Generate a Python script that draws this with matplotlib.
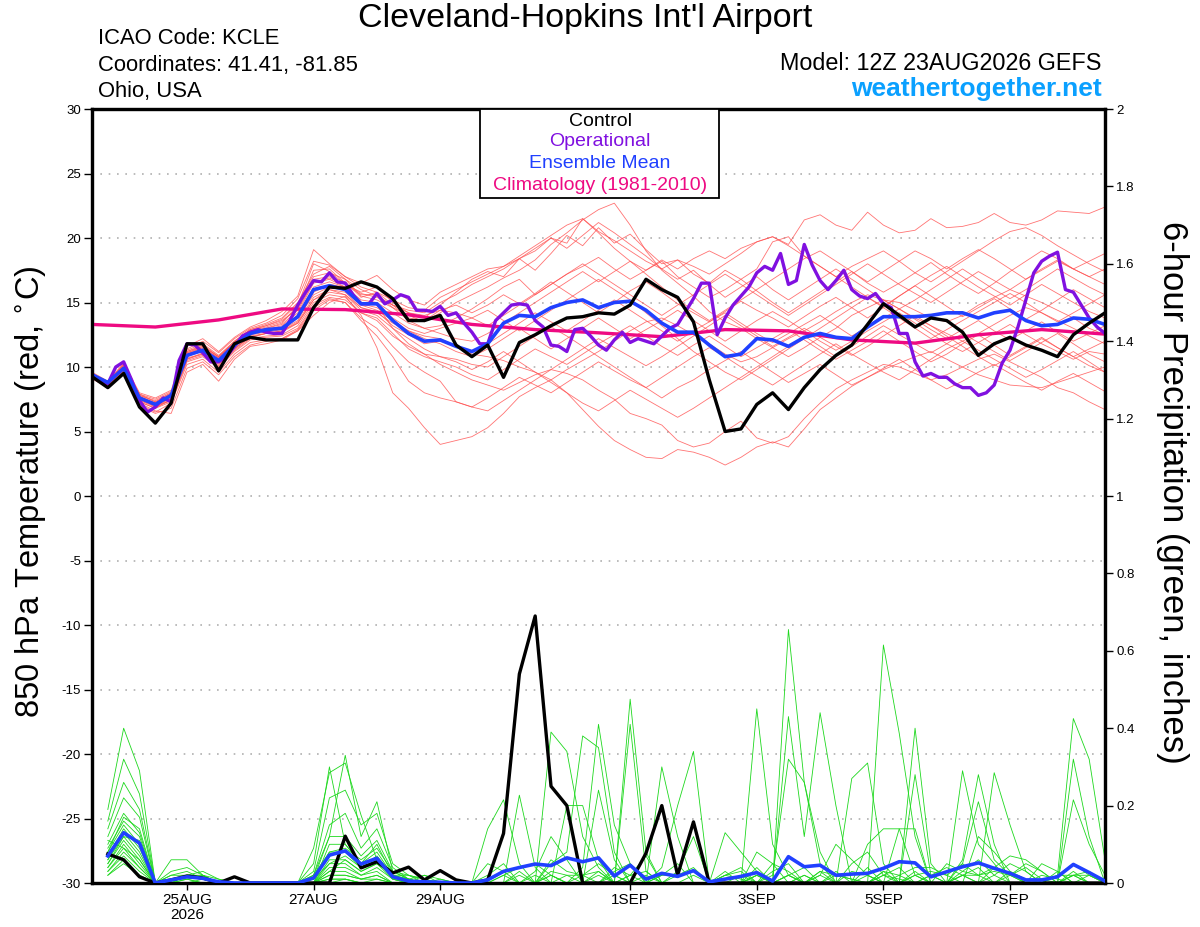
import numpy as np
import matplotlib
matplotlib.use("Agg")
import matplotlib.pyplot as plt
from matplotlib.patches import Rectangle

plt.rcParams['font.family'] = ['Liberation Sans', 'DejaVu Sans']

# ---------------- data ----------------
hours6 = np.arange(65) * 6          # 12Z 23AUG .. 12Z 8SEP, 6-hourly
hours3 = np.arange(129) * 3         # operational run is 3-hourly
clim_hours = np.arange(17) * 24

tick_hours = [36, 84, 132, 204, 252, 300, 348]
tick_labels = ['25AUG\n2026', '27AUG', '29AUG', '1SEP', '3SEP', '5SEP', '7SEP']

control_t = [9.25, 8.4, 9.5, 6.9, 5.65, 7.2, 11.8, 11.8, 9.7, 11.8, 12.3, 12.1, 12.1, 12.1, 14.6,
             16.2, 16.1, 16.6, 16.2, 15.3, 13.6, 13.6, 14.0, 11.7, 10.8, 11.7, 9.2, 11.9, 12.5, 13.2,
             13.8, 13.9, 14.2, 14.1, 14.8, 16.8, 16.0, 15.4, 13.5, 9.0, 5.0, 5.2, 7.1, 8.0, 6.7,
             8.4, 9.8, 10.9, 11.7, 13.3, 14.9, 14.0, 13.1, 13.8, 13.6, 12.7, 10.9, 11.8, 12.3, 11.7,
             11.3, 10.8, 12.5, 13.4, 14.2]

mean_t = [9.4, 8.8, 9.9, 7.6, 7.1, 7.8, 10.9, 11.3, 10.5, 11.7, 12.6, 12.9, 13.0, 13.9, 16.0,
          16.3, 16.0, 14.9, 14.9, 13.6, 12.6, 12.0, 12.1, 11.6, 11.2, 11.8, 13.4, 14.0, 13.9, 14.6,
          15.0, 15.2, 14.6, 15.0, 15.1, 14.4, 13.4, 12.7, 12.7, 11.7, 10.8, 11.0, 12.2, 12.1, 11.6,
          12.3, 12.6, 12.3, 12.2, 13.1, 13.9, 13.9, 13.9, 14.0, 14.2, 14.2, 13.8, 14.2, 14.4, 13.6,
          13.2, 13.3, 13.8, 13.7, 13.3]

oper_t = [9.4, 9.0, 8.7, 10.0, 10.4, 9.0, 7.4, 6.5, 6.9, 7.6, 7.3, 10.5, 11.8, 11.7, 11.1, 10.4,
          10.4, 10.8, 11.6, 12.4, 12.7, 12.9, 12.7, 12.6, 12.6, 13.6, 14.8, 15.8, 16.7, 16.6, 17.3,
          16.6, 16.5, 15.6, 14.9, 14.9, 15.7, 14.9, 15.2, 15.6, 15.4, 14.4, 14.4, 14.3, 14.7, 14.0,
          14.2, 13.4, 12.7, 11.8, 11.8, 13.6, 14.2, 14.8, 14.9, 14.8, 13.6, 13.1, 11.7, 11.6, 11.2,
          12.9, 13.0, 12.4, 11.7, 11.3, 12.1, 12.7, 11.9, 12.2, 12.0, 11.8, 12.4, 13.0, 13.3, 14.3,
          15.3, 16.5, 16.5, 12.5, 13.8, 14.8, 15.5, 16.2, 17.3, 17.8, 17.5, 18.8, 16.4, 16.7, 19.5,
          17.9, 16.7, 16.0, 16.7, 17.5, 16.0, 15.5, 15.3, 15.7, 14.9, 14.6, 12.6, 12.6, 10.4, 9.3,
          9.5, 9.2, 9.2, 8.7, 8.4, 8.4, 7.8, 8.0, 8.6, 10.3, 11.3, 13.1, 15.2, 17.3, 18.2, 18.6,
          18.9, 16.0, 15.8, 14.8, 13.8, 13.1, 12.6]

clim_t = [13.3, 13.1, 13.65, 14.5, 14.45, 14.05, 13.3, 12.9, 12.65, 12.35, 12.9, 12.8, 12.1,
          11.85, 12.5, 12.9, 12.55]

temp_members = [
    [9.5, 8.8, 10.2, 7.8, 7.4, 8.0, 11.3, 11.8, 10.9, 12.0, 12.9, 13.3, 13.8, 15.0, 17.2, 17.8, 16.8, 15.5, 15.2, 14.6, 14.0, 13.5, 14.2, 15.0, 15.6,
     16.2, 16.9, 17.5, 18.3, 19.5, 20.4, 21.4, 22.2, 22.7, 21.0, 19.0, 17.5, 16.5, 15.5, 14.3, 13.5, 13.0, 12.2, 11.5, 10.8, 11.5, 12.3, 13.0, 14.0, 14.6, 15.2, 15.0, 14.4, 13.8, 13.5, 14.0, 14.8, 15.4, 16.0, 15.5, 15.0, 14.4, 13.8, 13.0, 12.5],
    [9.2, 8.5, 9.6, 7.2, 6.6, 6.4, 9.6, 10.2, 8.9, 10.6, 11.6, 11.8, 12.1, 12.8, 14.0, 15.0, 15.5, 14.0, 11.5, 8.0, 6.8, 5.3, 4.0, 4.3, 4.6,
     5.3, 6.4, 7.7, 8.4, 9.0, 9.8, 10.5, 11.2, 12.0, 12.8, 13.5, 13.8, 13.2, 12.5, 11.8, 11.0, 10.4, 10.8, 11.5, 12.2, 12.8, 13.5, 14.3, 15.0, 15.6, 15.2, 14.5, 13.8, 13.2, 12.6, 12.0, 12.6, 13.3, 14.0, 14.6, 14.2, 13.6, 13.0, 12.4, 11.8],
    [9.4, 8.6, 9.8, 7.5, 7.0, 7.6, 10.6, 11.0, 10.2, 11.4, 12.4, 12.6, 12.8, 13.5, 15.4, 16.0, 15.8, 14.6, 14.3, 13.2, 12.5, 11.8, 12.0, 11.6, 11.0,
     10.8, 10.5, 10.0, 9.6, 9.0, 8.0, 6.7, 5.4, 4.3, 3.6, 3.0, 2.9, 3.6, 3.4, 3.0, 2.4, 3.0, 3.8, 4.2, 3.8, 5.2, 6.7, 7.6, 8.5, 9.2, 9.8, 10.3, 10.8, 11.2, 10.6, 10.0, 9.4, 9.0, 8.6, 8.5, 8.4, 8.8, 9.2, 9.6, 10.0],
    [9.3, 8.7, 10.0, 7.6, 6.9, 7.4, 10.8, 11.4, 10.6, 11.8, 12.6, 12.9, 13.2, 14.2, 16.5, 16.8, 16.2, 15.0, 14.8, 13.0, 11.8, 11.0, 10.2, 9.6, 9.0,
     8.6, 8.2, 8.8, 9.4, 9.8, 9.5, 9.0, 8.2, 7.5, 6.4, 6.0, 5.5, 4.3, 3.8, 4.1, 5.0, 5.8, 4.5, 4.1, 4.6, 6.0, 7.2, 8.3, 9.0, 9.6, 10.2, 10.0, 9.5, 9.0, 9.4, 10.0, 10.6, 11.0, 10.4, 9.8, 9.2, 8.4, 8.0, 7.3, 6.7],
    [9.6, 8.9, 10.3, 8.0, 7.6, 8.2, 11.6, 12.2, 11.2, 12.3, 13.1, 13.6, 14.3, 15.5, 19.1, 18.0, 17.0, 16.5, 17.1, 16.0, 15.2, 14.8, 15.8, 16.4, 17.0,
     17.6, 17.8, 18.4, 19.2, 20.0, 19.6, 21.5, 20.5, 19.8, 19.0, 18.2, 17.6, 18.3, 17.8, 17.2, 18.0, 18.8, 19.7, 20.1, 19.5, 21.4, 21.8, 21.0, 20.6, 22.0, 21.0, 20.4, 20.6, 21.5, 20.8, 20.9, 21.2, 21.9, 21.2, 21.0, 21.4, 22.1, 22.0, 21.9, 22.4],
    [9.4, 8.7, 9.9, 7.7, 7.2, 7.9, 11.0, 11.5, 10.7, 11.9, 12.8, 13.0, 13.4, 14.8, 18.0, 17.4, 16.4, 15.8, 16.2, 15.0, 14.2, 13.8, 14.8, 15.8, 16.8,
     17.4, 17.0, 18.4, 17.5, 18.8, 20.2, 19.4, 20.8, 19.6, 20.3, 19.1, 18.0, 18.3, 17.2, 16.5, 17.5, 16.8, 17.6, 19.7, 20.1, 18.6, 17.8, 17.0, 17.8, 18.4, 19.0, 18.2, 17.3, 16.6, 17.4, 18.2, 19.0, 19.8, 20.5, 20.8, 20.2, 19.4, 18.7, 18.0, 17.4],
    [9.3, 8.6, 9.9, 7.4, 7.0, 7.7, 10.9, 11.2, 10.4, 11.6, 12.5, 12.7, 12.9, 13.6, 15.8, 16.4, 16.2, 15.2, 15.0, 14.2, 13.4, 13.0, 13.2, 13.8, 14.5,
     15.3, 16.2, 16.8, 15.6, 16.4, 17.2, 17.8, 18.5, 17.6, 16.8, 17.5, 18.2, 17.0, 16.2, 15.4, 16.0, 16.8, 15.9, 15.0, 14.2, 15.0, 15.8, 16.6, 17.4, 16.5, 15.8, 16.5, 17.3, 18.1, 17.2, 16.4, 15.7, 16.5, 17.4, 18.2, 19.0, 18.4, 17.6, 18.2, 18.8],
    [9.5, 8.8, 10.1, 7.9, 7.3, 7.9, 11.1, 11.6, 10.8, 11.9, 12.8, 13.2, 13.6, 14.5, 16.8, 17.0, 16.6, 15.4, 15.8, 14.8, 13.8, 13.6, 14.4, 14.8, 14.2,
     14.8, 15.6, 14.9, 15.7, 16.6, 15.8, 15.0, 14.2, 15.0, 15.9, 16.6, 15.8, 14.9, 14.2, 13.5, 14.3, 15.1, 14.4, 13.8, 13.1, 13.9, 14.7, 15.4, 14.6, 13.8, 14.6, 15.5, 16.3, 15.5, 14.7, 13.9, 14.6, 15.3, 14.5, 13.7, 14.4, 15.2, 16.0, 15.3, 14.6],
    [9.1, 8.4, 9.6, 7.3, 6.8, 7.5, 10.5, 10.9, 10.0, 11.3, 12.2, 12.4, 12.5, 13.2, 15.0, 15.6, 15.4, 14.2, 13.8, 12.6, 11.4, 10.8, 10.4, 10.0, 9.4,
     9.0, 9.8, 10.6, 11.4, 10.8, 10.2, 11.0, 11.8, 12.5, 13.2, 12.4, 11.6, 10.9, 11.7, 12.4, 11.6, 10.8, 11.5, 12.2, 12.9, 12.1, 11.3, 10.6, 11.3, 12.0, 12.8, 12.0, 11.2, 10.4, 11.0, 11.8, 12.5, 11.7, 10.9, 11.6, 12.3, 11.5, 10.8, 10.1, 9.6],
    [9.2, 8.5, 9.7, 7.1, 6.5, 7.2, 10.2, 10.6, 9.6, 11.0, 11.9, 12.1, 12.2, 12.8, 14.4, 15.2, 15.0, 13.8, 13.0, 11.6, 10.4, 9.6, 8.9, 7.3, 6.9,
     7.6, 8.4, 9.2, 8.6, 8.0, 8.8, 9.6, 10.4, 9.7, 9.0, 8.4, 9.2, 10.0, 10.8, 11.5, 10.8, 10.0, 9.3, 8.6, 9.4, 10.2, 11.0, 11.8, 11.0, 10.3, 9.6, 9.0, 9.8, 10.6, 11.4, 12.0, 11.3, 10.6, 9.9, 9.2, 9.8, 10.5, 11.2, 10.4, 9.6],
    [9.4, 8.7, 10.0, 7.6, 7.1, 7.8, 11.0, 11.4, 10.5, 11.7, 12.6, 12.9, 13.1, 14.0, 16.2, 16.6, 16.2, 14.8, 14.4, 13.6, 12.8, 12.4, 12.2, 11.6, 11.2,
     11.8, 12.6, 13.4, 14.2, 13.5, 12.8, 13.6, 14.4, 15.2, 14.4, 13.6, 12.8, 12.0, 12.8, 13.5, 14.2, 13.4, 12.6, 11.9, 12.6, 13.3, 14.0, 13.2, 12.4, 13.1, 13.8, 14.5, 13.7, 12.9, 12.2, 12.9, 13.6, 12.8, 12.1, 12.8, 13.5, 12.7, 12.0, 12.6, 13.2],
    [9.5, 8.8, 10.1, 7.7, 7.2, 7.8, 11.2, 11.7, 10.8, 11.9, 12.8, 13.1, 13.5, 14.6, 17.5, 17.6, 16.5, 15.7, 15.4, 14.8, 14.4, 14.2, 15.0, 15.6, 16.4,
     17.0, 17.6, 18.4, 19.0, 20.0, 19.2, 20.2, 21.2, 20.4, 19.5, 18.6, 17.6, 16.8, 17.5, 16.4, 15.4, 16.2, 17.0, 16.0, 15.2, 16.0, 16.8, 17.6, 16.8, 16.0, 15.2, 14.5, 15.2, 16.0, 16.8, 17.6, 16.8, 16.0, 15.3, 16.0, 16.8, 17.6, 16.9, 16.2, 15.6],
    [9.2, 8.6, 9.8, 7.5, 7.0, 7.4, 10.6, 11.1, 10.3, 11.5, 12.3, 12.6, 12.8, 13.4, 15.2, 16.0, 15.6, 14.4, 14.0, 13.0, 12.2, 11.4, 10.8, 10.6, 10.2,
     10.0, 10.8, 11.6, 12.4, 13.1, 12.4, 11.6, 10.8, 10.0, 9.2, 8.4, 7.6, 8.4, 9.0, 9.8, 10.5, 11.2, 10.4, 9.6, 8.8, 9.5, 10.2, 9.4, 8.6, 9.2, 9.9, 10.6, 9.8, 9.0, 8.3, 8.9, 9.6, 10.2, 9.5, 8.8, 8.2, 8.9, 9.5, 8.8, 8.1],
    [9.3, 8.6, 9.9, 7.6, 7.1, 7.7, 10.8, 11.3, 10.5, 11.7, 12.6, 12.8, 13.0, 13.8, 15.6, 16.2, 16.0, 14.9, 14.6, 13.8, 13.0, 12.6, 13.0, 13.4, 13.8,
     14.4, 13.6, 12.8, 13.6, 14.4, 15.2, 16.0, 16.8, 16.0, 15.2, 14.2, 13.2, 12.2, 11.2, 10.4, 9.6, 9.0, 9.8, 10.6, 11.4, 12.2, 13.0, 13.8, 14.6, 15.4, 14.6, 13.8, 13.0, 12.2, 12.9, 13.6, 14.3, 15.0, 15.7, 15.0, 14.2, 13.5, 14.2, 14.9, 15.6],
    [9.4, 8.7, 10.0, 7.7, 7.2, 7.9, 11.1, 11.5, 10.7, 11.8, 12.7, 13.0, 13.3, 14.4, 16.6, 16.9, 16.4, 15.6, 15.6, 14.6, 13.6, 13.0, 12.6, 12.2, 12.0,
     12.6, 13.4, 14.2, 15.0, 15.8, 16.6, 17.4, 16.6, 17.4, 18.2, 17.5, 18.3, 17.6, 18.4, 19.0, 18.4, 19.2, 19.7, 20.1, 19.4, 18.6, 17.8, 17.0, 16.2, 15.4, 14.7, 15.5, 16.3, 17.1, 17.8, 17.0, 16.2, 15.5, 14.8, 15.6, 16.4, 15.7, 15.0, 14.3, 13.8],
    [9.2, 8.5, 9.7, 7.3, 6.8, 7.3, 10.4, 10.8, 9.9, 11.2, 12.1, 12.3, 12.4, 13.0, 14.8, 15.4, 15.2, 14.2, 13.6, 12.4, 11.6, 11.0, 10.8, 10.4, 9.8,
     10.4, 11.2, 10.4, 9.6, 8.8, 8.0, 7.2, 6.6, 7.4, 8.2, 7.5, 6.8, 6.1, 6.8, 7.6, 8.4, 9.2, 10.0, 10.8, 11.6, 12.4, 11.6, 10.8, 11.6, 12.4, 13.2, 12.5, 11.8, 11.1, 11.8, 12.6, 11.9, 11.2, 10.5, 11.2, 11.9, 12.6, 11.8, 11.0, 10.4],
    [9.5, 8.9, 10.2, 7.9, 7.5, 8.1, 11.4, 12.0, 11.1, 12.2, 13.0, 13.4, 14.0, 15.3, 18.2, 17.9, 17.0, 16.2, 15.8, 15.2, 14.6, 14.4, 15.4, 16.0, 16.6,
     17.2, 17.8, 18.6, 19.4, 20.2, 21.0, 21.5, 20.4, 19.2, 18.2, 17.2, 16.2, 15.2, 14.4, 13.6, 14.4, 15.2, 16.0, 16.8, 17.6, 18.4, 19.0, 18.2, 17.4, 16.6, 17.4, 18.2, 19.0, 18.4, 17.6, 18.4, 19.1, 18.4, 17.6, 16.8, 17.5, 18.2, 17.6, 17.0, 16.4],
    [9.3, 8.6, 9.8, 7.4, 6.9, 7.6, 10.7, 11.0, 10.1, 11.4, 12.3, 12.6, 12.7, 13.4, 15.2, 15.8, 15.6, 14.6, 14.2, 13.4, 12.8, 12.2, 11.8, 11.2, 10.8,
     11.4, 12.2, 13.0, 12.2, 11.4, 12.2, 13.0, 13.8, 13.0, 12.2, 12.9, 13.6, 14.4, 13.6, 12.8, 12.0, 12.8, 13.6, 14.3, 13.6, 12.8, 12.0, 11.3, 12.0, 12.8, 13.5, 14.2, 13.4, 12.6, 11.8, 11.2, 11.9, 12.6, 13.3, 12.5, 11.8, 11.2, 10.6, 11.2, 11.0],
    [9.1, 8.4, 9.5, 7.0, 6.4, 6.8, 9.9, 10.4, 9.4, 10.8, 11.7, 12.0, 12.2, 12.9, 14.6, 15.3, 15.0, 13.6, 12.4, 10.8, 8.9, 8.0, 7.6, 7.3, 6.9,
     6.6, 7.4, 8.2, 9.0, 9.8, 10.6, 11.4, 12.2, 11.5, 10.8, 10.1, 10.8, 11.6, 12.4, 13.2, 14.0, 13.2, 12.4, 11.6, 12.3, 13.0, 12.3, 11.6, 10.9, 11.6, 12.4, 13.2, 14.0, 13.2, 12.4, 11.6, 10.8, 10.1, 10.8, 11.5, 12.2, 11.5, 10.8, 11.4, 12.0],
    [9.4, 8.8, 10.1, 7.8, 7.3, 8.0, 11.2, 11.6, 10.8, 12.0, 12.9, 13.2, 13.7, 14.9, 17.0, 17.3, 16.8, 16.0, 15.5, 14.8, 14.2, 14.0, 14.4, 14.2, 13.8,
     13.2, 14.0, 14.8, 15.6, 16.4, 17.2, 18.0, 17.2, 16.4, 15.6, 14.8, 14.0, 14.8, 15.6, 16.4, 17.2, 16.4, 15.6, 14.8, 14.0, 14.8, 15.6, 16.4, 17.2, 18.0, 17.2, 16.4, 15.7, 15.0, 15.8, 16.6, 17.4, 16.7, 16.0, 16.8, 17.6, 18.3, 17.6, 17.0, 17.6],
]

# 6-hour precipitation, 6h .. 384h
control_p = [.075, .06, .016, 0, .008, .018, .013, 0, .016, 0, 0, 0, 0, 0, 0, .121,
             .039, .055, .026, .041, .008, .032, .008, 0, .008, .128, .54, .69, .25, .20, 0, 0,
             0, 0, .077, .20, .02, .158, 0, 0, 0, 0, 0, 0, 0, 0, 0, 0,
             0, 0, 0, 0, 0, 0, 0, 0, 0, 0, 0, 0, 0, 0, 0, 0]

mean_p = [.07, .13, .103, 0, .008, .016, .012, .003, 0, 0, 0, 0, 0, .013, .072, .083,
          .049, .064, .016, .005, .003, .002, 0, 0, .008, .03, .04, .049, .045, .065, .055, .065,
          .018, .046, .01, .025, .017, .032, .003, .01, .017, .027, .005, .068, .042, .046, .02, .023,
          .025, .038, .055, .052, .016, .029, .042, .052, .038, .025, .008, .008, .016, .048, .027, .005]

precip_members = [
    [.19, .40, .29, 0, .02, .03, .01, 0, 0, 0, 0, 0, 0, .02, .12, .33, .12, .21, .03, .01, 0, 0, 0, 0, 0, 0, 0, 0, .02, 0, 0, 0,
     0, .41, .03, 0, 0, 0, 0, 0, 0, .02, 0, .655, .26, .05, 0, 0, 0, 0, 0, 0, 0, 0, .02, .04, 0, 0, 0, 0, 0, .03, 0, 0],
    [.16, .32, .23, 0, .06, .06, .02, 0, 0, 0, 0, 0, 0, .05, .30, .10, .05, .10, .02, 0, 0, 0, 0, 0, .14, .215, .05, 0, 0, 0, 0, 0,
     0, 0, 0, .30, .12, 0, 0, 0, 0, 0, 0, 0, 0, 0, 0, 0, 0, .02, .04, 0, 0, 0, 0, 0, 0, 0, 0, 0, .02, .425, .32, .06],
    [.14, .26, .19, 0, .01, .02, .01, 0, 0, 0, 0, 0, 0, .09, .285, .31, .175, .06, .01, 0, 0, 0, 0, 0, 0, 0, 0, 0, .39, .34, .12, .04,
     0, 0, 0, 0, 0, 0, 0, .13, .08, .03, 0, 0, 0, 0, 0, .27, .31, .05, 0, 0, 0, 0, 0, 0, 0, 0, 0, 0, 0, 0, 0, 0],
    [.12, .22, .17, 0, 0, .01, 0, 0, 0, 0, 0, 0, 0, .03, .22, .24, .15, .18, .05, .02, 0, 0, 0, 0, 0, 0, .227, .04, 0, .20, .20, .06,
     0, .475, .08, 0, 0, 0, 0, 0, 0, .45, .10, .02, 0, 0, 0, 0, 0, .615, .387, .12, 0, 0, 0, 0, 0, 0, 0, 0, 0, 0, 0, 0],
    [.10, .18, .13, 0, 0, 0, .01, 0, 0, 0, 0, 0, 0, .02, .15, .18, .09, .14, .04, .01, 0, 0, 0, 0, .05, .03, 0, 0, .05, .08, .38, .35,
     .08, 0, 0, 0, 0, 0, 0, 0, 0, 0, 0, .43, .12, .44, .20, 0, 0, 0, 0, .40, .05, 0, 0, 0, 0, 0, 0, 0, 0, 0, 0, 0],
    [.09, .16, .12, 0, 0, .02, .03, .01, 0, 0, 0, 0, 0, .01, .12, .12, .07, .11, .03, .01, .02, 0, 0, 0, 0, 0, 0, 0, 0, 0, .04, .41,
     .15, .05, 0, .04, .20, .34, 0, 0, 0, 0, 0, 0, 0, 0, 0, 0, 0, 0, 0, .28, .02, 0, .29, .10, .05, 0, 0, 0, 0, 0, 0, 0],
    [.08, .15, .10, 0, 0, 0, 0, 0, 0, 0, 0, 0, 0, 0, .10, .10, .05, .08, .02, .02, .01, 0, 0, 0, 0, .02, .04, .05, .02, 0, 0, .24,
     .06, 0, 0, 0, .03, .12, 0, 0, 0, 0, .02, .32, .26, .08, 0, 0, 0, 0, 0, 0, 0, 0, .06, .28, .10, 0, 0, 0, 0, .32, .12, 0],
    [.07, .14, .09, 0, .03, .04, .02, 0, 0, 0, 0, 0, 0, 0, .08, .08, .04, .06, .02, .01, 0, .01, 0, 0, 0, 0, 0, .03, .12, .06, 0, 0,
     0, .02, .07, 0, 0, 0, 0, .02, .03, 0, 0, 0, 0, .02, .10, .06, .02, 0, 0, 0, 0, 0, 0, 0, .285, .15, .03, 0, 0, 0, 0, 0],
    [.06, .13, .08, 0, 0, 0, 0, 0, 0, 0, 0, 0, 0, 0, .06, .06, .03, .05, .01, 0, 0, 0, 0, 0, 0, 0, 0, 0, .06, .03, .02, 0,
     0, 0, 0, 0, 0, 0, 0, 0, 0, 0, .03, .05, 0, 0, 0, .05, .08, .02, 0, .03, 0, 0, 0, .12, .08, .03, 0, 0, 0, .215, .10, .02],
    [.05, .12, .07, 0, .02, .02, .01, 0, 0, 0, 0, 0, 0, 0, .05, .05, .02, .04, .01, 0, .02, .01, 0, 0, 0, 0, .03, 0, 0, 0, .02, .05,
     .02, 0, 0, .02, .05, 0, 0, 0, 0, .04, 0, 0, 0, .03, 0, 0, .10, .14, .14, .02, 0, 0, .05, .02, 0, .02, .05, .03, 0, 0, 0, 0],
    [.05, .11, .06, 0, 0, 0, 0, 0, 0, 0, 0, 0, 0, 0, .04, .04, .02, .03, 0, 0, 0, 0, 0, 0, 0, 0, 0, 0, .03, .02, 0, 0,
     .04, .02, 0, 0, 0, 0, 0, 0, 0, 0, .05, .03, 0, .03, .02, .01, 0, 0, .02, .04, .04, .02, .05, .21, .06, .02, 0, 0, .02, .02, 0, 0],
    [.04, .10, .05, 0, 0, .01, .02, .01, 0, 0, 0, 0, 0, 0, .03, .03, .01, .02, 0, 0, 0, 0, 0, 0, 0, 0, 0, 0, 0, 0, 0, 0,
     0, .02, .03, 0, .02, .03, 0, .02, .01, 0, 0, .02, .04, 0, 0, .03, .02, 0, .14, .14, 0, 0, .03, .06, .02, .05, .03, 0, .02, .05, .02, 0],
    [.04, .09, .04, 0, 0, 0, 0, 0, 0, 0, 0, 0, 0, 0, .02, .02, .01, .02, 0, 0, 0, 0, 0, 0, 0, 0, 0, 0, 0, 0, 0, 0,
     .02, 0, 0, 0, 0, .02, 0, 0, 0, .08, .05, 0, 0, 0, .02, .01, 0, .03, .02, 0, 0, .05, .03, .02, .03, .02, .04, .01, 0, .02, .02, 0],
    [.03, .08, .04, 0, 0, 0, 0, 0, 0, 0, 0, 0, 0, 0, .02, .02, .01, .01, 0, 0, 0, 0, 0, 0, 0, 0, 0, 0, .02, 0, 0, .03,
     0, 0, 0, 0, 0, 0, 0, .02, .04, 0, 0, 0, 0, 0, .03, 0, .04, 0, 0, 0, .02, .04, .02, 0, .04, .02, 0, .02, .01, 0, 0, 0],
    [.03, .07, .03, 0, 0, 0, 0, 0, 0, 0, 0, 0, 0, 0, .01, .01, 0, .01, 0, 0, 0, 0, 0, 0, 0, 0, .02, 0, 0, 0, 0, 0,
     0, 0, 0, 0, 0, 0, 0, 0, 0, .02, 0, 0, .02, 0, 0, 0, 0, 0, 0, .02, 0, 0, .02, .02, .04, .07, .06, .03, 0, .02, .03, 0],
    [.02, .06, .02, 0, 0, 0, 0, 0, 0, 0, 0, 0, 0, 0, .01, .01, 0, 0, 0, 0, 0, 0, 0, 0, 0, 0, 0, 0, 0, 0, 0, .02,
     0, 0, .02, 0, 0, 0, 0, 0, 0, 0, 0, 0, 0, 0, 0, 0, .02, 0, 0, 0, .02, 0, 0, 0, 0, 0, 0, .05, .03, 0, .02, 0],
    [.02, .05, .02, 0, 0, 0, 0, 0, 0, 0, 0, 0, 0, 0, 0, .01, 0, 0, 0, 0, 0, 0, 0, 0, 0, 0, 0, 0, 0, 0, 0, 0,
     0, 0, 0, 0, 0, 0, 0, 0, 0, .02, 0, 0, 0, .02, 0, 0, 0, .03, 0, 0, 0, 0, .02, 0, .02, 0, 0, 0, .03, 0, 0, 0],
    [.06, .12, .11, 0, 0, .02, .02, 0, 0, 0, 0, 0, 0, 0, .03, .06, .03, .05, .02, .01, 0, 0, 0, 0, .02, .05, 0, .02, 0, .02, .02, .03,
     0, 0, 0, .02, .02, .04, 0, .03, 0, 0, 0, .02, 0, 0, 0, 0, 0, 0, 0, 0, 0, 0, 0, 0, 0, .03, .01, 0, 0, .02, 0, 0],
    [.08, .17, .14, 0, .01, .01, 0, 0, 0, 0, 0, 0, 0, .02, .08, .09, .06, .09, .03, .02, .01, 0, 0, 0, 0, .02, 0, 0, 0, 0, 0, 0,
     .03, .05, 0, 0, 0, 0, 0, 0, .02, 0, 0, 0, .02, 0, 0, 0, 0, .02, .01, 0, 0, 0, 0, 0, 0, 0, 0, 0, 0, 0, 0, 0],
    [.11, .09, .06, 0, 0, 0, 0, 0, 0, 0, 0, 0, 0, .01, .05, .07, .04, .07, .02, 0, 0, 0, 0, 0, 0, 0, 0, 0, 0, 0, 0, 0,
     0, 0, 0, 0, 0, 0, 0, 0, 0, 0, 0, .02, 0, 0, 0, 0, 0, 0, 0, .02, .03, .02, 0, 0, 0, 0, 0, 0, 0, 0, 0, 0],
]

# ---------------- figure ----------------
W, H = 1200, 927
fig = plt.figure(figsize=(W / 100, H / 100), dpi=100)
L, R, B, T = 92, 1105, 883, 109
ax = fig.add_axes([L / W, 1 - B / H, (R - L) / W, (B - T) / H])
ax2 = ax.twinx()

red = '#ff5050'
green = '#1ed81e'
purple = '#8010e0'
blue = '#2040ff'
pink = '#ee0a82'

for m in temp_members:
    ax.plot(hours6[:len(m)], m, color=red, lw=0.6, alpha=0.8, zorder=2)
ax.plot(clim_hours, clim_t, color=pink, lw=2.4, zorder=3)
ax.plot(hours3[:len(oper_t)], oper_t, color=purple, lw=2.4, zorder=4)
ax.plot(hours6, mean_t, color=blue, lw=2.6, zorder=5)
ax.plot(hours6, control_t, color='black', lw=2.4, zorder=6)

ph = hours6[1:]
for m in precip_members:
    ax2.plot(ph[:len(m)], m, color=green, lw=0.6, zorder=2)
ax2.plot(ph, control_p, color='black', lw=2.4, zorder=4)
ax2.plot(ph, mean_p, color=blue, lw=2.6, zorder=5)

ax.set_xlim(0, 384)
ax.set_ylim(-30, 30)
ax2.set_ylim(0, 2)

ax.set_yticks(np.arange(-30, 31, 5))
ax.set_yticklabels([str(v) for v in range(-30, 31, 5)], fontsize=9.5)
for v in range(-25, 30, 5):
    ax.axhline(v, color='#b0b0b0', lw=1.2, ls=(0, (1, 4)), zorder=1)

pticks = np.arange(0, 2.01, 0.2)
ax2.set_yticks(pticks)
ax2.set_yticklabels(['0', '0.2', '0.4', '0.6', '0.8', '1', '1.2', '1.4', '1.6', '1.8', '2'], fontsize=9.5)

ax.set_xticks(tick_hours)
ax.set_xticklabels(tick_labels, fontsize=11, linespacing=1.15)
ax.tick_params(axis='x', length=5, width=1, pad=2)
ax.tick_params(axis='y', length=6, width=1, pad=2)
ax2.tick_params(axis='y', length=6, width=1, pad=2)

for a in (ax, ax2):
    for s in a.spines.values():
        s.set_linewidth(2.3)

ax.set_ylabel('850 hPa Temperature (red, $^{\\circ}$C)', fontsize=23.5, va='center')
ax.yaxis.set_label_coords((31 - L) / (R - L), 0.505)
ax2.set_ylabel('6-hour Precipitation (green, inches)', fontsize=25, rotation=270, va='center')
ax2.yaxis.set_label_coords((1172 - L) / (R - L), 0.505)

# legend box
fig.add_artist(Rectangle((480 / W, 1 - 198 / H), 239 / W, 89 / H, transform=fig.transFigure,
                         facecolor='white', edgecolor='black', lw=1.3, zorder=10))
for txt, col, py in [('Control', 'black', 121), ('Operational', purple, 142),
                     ('Ensemble Mean', blue, 163), ('Climatology (1981-2010)', pink, 185)]:
    fig.text(600 / W, 1 - py / H, txt, color=col, fontsize=14, ha='center', va='center', zorder=11)

# header
fig.text(585 / W, 1 - 18 / H, "Cleveland-Hopkins Int'l Airport", fontsize=24.5, ha='center',
         va='center')
for txt, py in [('ICAO Code: KCLE', 39), ('Coordinates: 41.41, -81.85', 66), ('Ohio, USA', 92)]:
    fig.text(98 / W, 1 - py / H, txt, fontsize=15.8, ha='left', va='center')
fig.text(1102 / W, 1 - 64 / H, 'Model: 12Z 23AUG2026 GEFS', fontsize=16.8, ha='right', va='center')
fig.text(1102 / W, 1 - 89 / H, 'weathertogether.net', fontsize=19, ha='right', va='center',
         color='#0aa0ff', fontweight='bold')

fig.savefig('out.png', dpi=100)
